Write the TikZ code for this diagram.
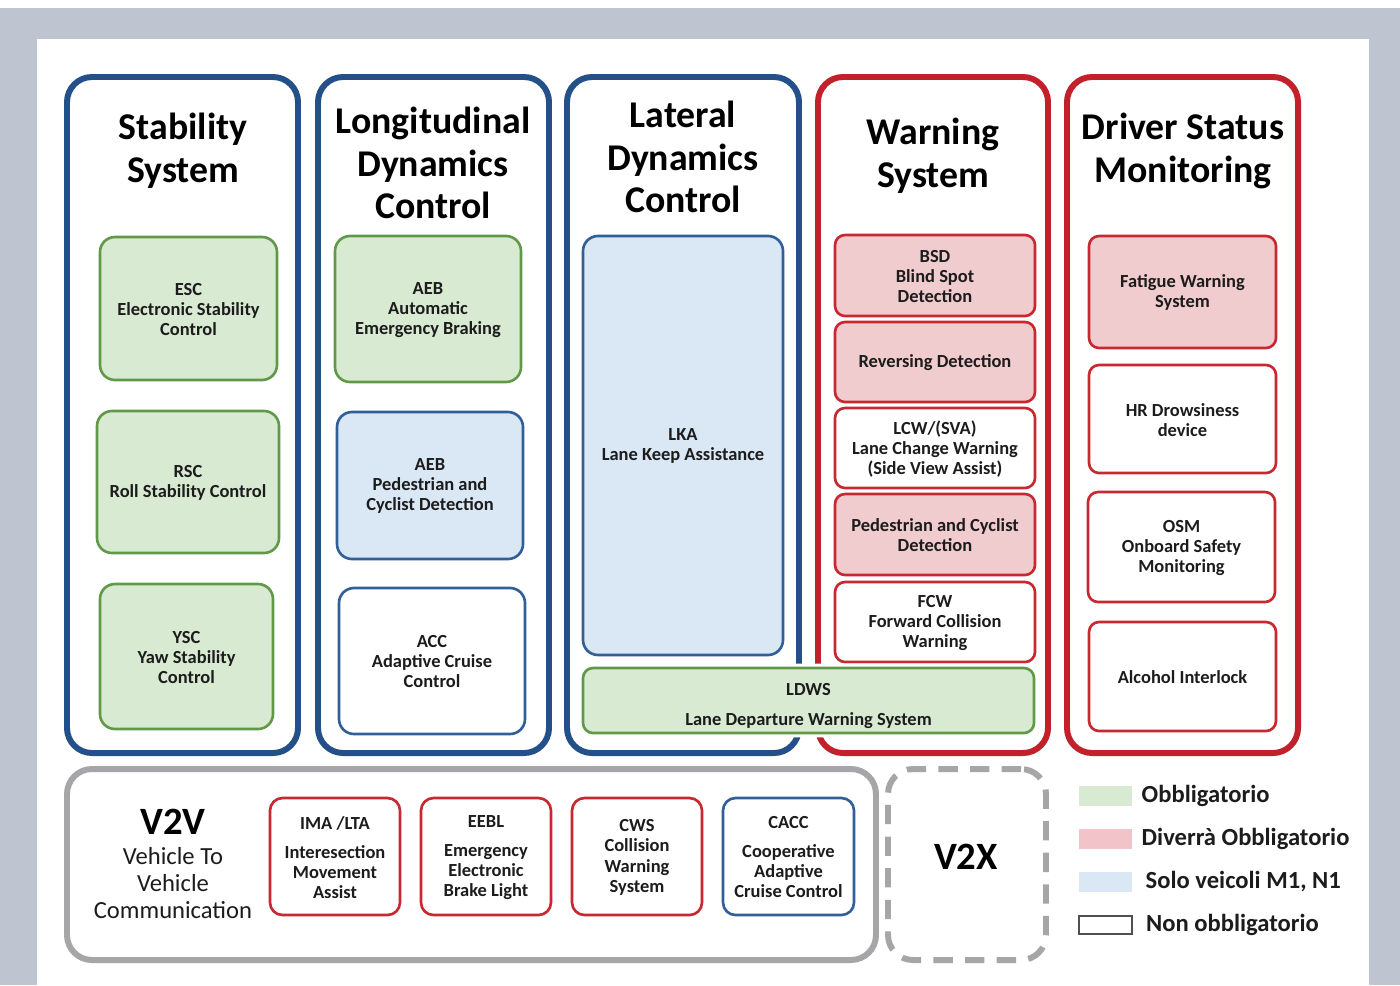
\documentclass[tikz,border=0pt]{standalone}
\usepackage{fontspec}
\setmainfont{Carlito}
\usetikzlibrary{positioning, fit, backgrounds}

\definecolor{bgblue}{RGB}{190,197,209}
\definecolor{colblue}{RGB}{36,80,137}
\definecolor{colred}{RGB}{194,32,42}
\definecolor{grnfill}{RGB}{217,234,211}
\definecolor{grnline}{RGB}{98,153,72}
\definecolor{pnkfill}{RGB}{240,204,206}
\definecolor{redline}{RGB}{200,40,48}
\definecolor{bluefill}{RGB}{218,232,246}
\definecolor{blueline}{RGB}{49,95,152}
\definecolor{grayline}{RGB}{166,166,168}
\definecolor{txt}{RGB}{28,28,28}

\begin{document}
\begin{tikzpicture}[
    x=0.02cm, y=-0.02cm,
    col/.style={draw, line width=3.4pt, rounded corners=0.5cm, inner sep=0pt},
    title/.style={font=\fontsize{21.5}{24.4}\selectfont\bfseries, align=center, text=black},
    box/.style={draw, line width=1.5pt, rounded corners=0.3cm, inner sep=0pt},
    gbox/.style={box, draw=grnline, fill=grnfill},
    pbox/.style={box, draw=redline, fill=pnkfill, rounded corners=0.2cm},
    rbox/.style={box, draw=redline, fill=white, rounded corners=0.2cm},
    bbox/.style={box, draw=blueline, fill=bluefill},
    wbox/.style={box, draw=blueline, fill=white},
    boxtxt/.style={align=center, text=txt, inner sep=0pt, yshift=-0.5pt, font=\fontsize{10.5}{11.4}\selectfont\bfseries},
    swatch/.style={minimum width=1.06cm, minimum height=0.4cm, inner sep=0pt},
    legtxt/.style={font=\fontsize{14}{16}\selectfont\bfseries, text=txt, anchor=west, inner sep=0pt}
  ]
  \useasboundingbox (0,0) rectangle (1400,985);

  % page background
  \fill[bgblue] (0,8) rectangle (1400,985);
  \fill[white] (37,39) rectangle (1369,985);

  % Columns
  \node[col, draw=colblue, fit={(67,77) (298,753)}] (stab) {};
  \node[col, draw=colblue, fit={(318,77) (549,753)}] (longi) {};
  \node[col, draw=colblue, fit={(567,77) (799,753)}] (lat) {};
  \node[col, draw=colred, fit={(818,77) (1048,753)}] (warn) {};
  \node[col, draw=colred, fit={(1067,77) (1298,753)}] (drv) {};

  \node[title] (stabT) at (183,151) {Stability\\System};
  \node[title] (longiT) at (433,163) {Longitudinal\\Dynamics\\Control};
  \node[title] (latT) at (683,157) {Lateral\\Dynamics\\Control};
  \node[title] (warnT) at (933,156) {Warning\\System};
  \node[title] (drvT) at (1183,151) {Driver Status\\Monitoring};

  % Stability system
  \node[gbox, fit={(100,237) (277,380)}] (esc) {};
  \node[gbox, fit={(97,411) (279,553)}] (rsc) {};
  \node[gbox, fit={(100,584) (273,729)}] (ysc) {};
  \node[boxtxt] (escT) at (esc) {ESC\\Electronic Stability\\Control};
  \node[boxtxt] (rscT) at (rsc) {RSC\\Roll Stability Control};
  \node[boxtxt] (yscT) at (ysc) {YSC\\Yaw Stability\\Control};

  % Longitudinal dynamics
  \node[gbox, fit={(335,236) (521,382)}] (aeb) {};
  \node[bbox, fit={(337,412) (523,559)}] (aebped) {};
  \node[wbox, fit={(339,588) (525,734)}] (acc) {};
  \node[boxtxt] (aebT) at (aeb) {AEB\\Automatic\\Emergency Braking};
  \node[boxtxt] (aebpedT) at (aebped) {AEB\\Pedestrian and\\Cyclist Detection};
  \node[boxtxt] (accT) at (acc) {ACC\\Adaptive Cruise\\Control};

  % Lateral dynamics
  \node[bbox, fit={(583,236) (783,655)}] (lka) {};
  \node[boxtxt] (lkaT) at (lka) {LKA\\Lane Keep Assistance};

  % Warning system
  \node[pbox, fit={(835,235) (1035,316)}] (bsd) {};
  \node[pbox, fit={(835,322) (1035,402)}] (rev) {};
  \node[rbox, fit={(835,408) (1035,488)}] (lcw) {};
  \node[pbox, fit={(835,494) (1035,575)}] (ped) {};
  \node[rbox, fit={(835,582) (1035,662)}] (fcw) {};
  \node[boxtxt] (bsdT) at (bsd) {BSD\\Blind Spot\\Detection};
  \node[boxtxt] (revT) at (rev) {Reversing Detection};
  \node[boxtxt] (lcwT) at (lcw) {LCW/(SVA)\\Lane Change Warning\\(Side View Assist)};
  \node[boxtxt] (pedT) at (ped) {Pedestrian and Cyclist\\Detection};
  \node[boxtxt] (fcwT) at (fcw) {FCW\\Forward Collision\\Warning};

  % LDWS spans lateral and warning columns
  \node[gbox, rounded corners=0.2cm, preaction={draw=white, line width=5pt}, fit={(583,668) (1034,733)}] (ldws) {};
  \node[boxtxt, yshift=-2.7pt] (ldwsT) at (ldws) {LDWS\\[5.5pt]Lane Departure Warning System};

  % Driver status
  \node[pbox, fit={(1089,236) (1276,348)}] (fat) {};
  \node[rbox, fit={(1089,365) (1276,473)}] (hr) {};
  \node[rbox, fit={(1088,492) (1275,602)}] (osm) {};
  \node[rbox, fit={(1089,622) (1276,731)}] (alc) {};
  \node[boxtxt] (fatT) at (fat) {Fatigue Warning\\System};
  \node[boxtxt] (hrT) at (hr) {HR Drowsiness\\device};
  \node[boxtxt] (osmT) at (osm) {OSM\\Onboard Safety\\Monitoring};
  \node[boxtxt] (alcT) at (alc) {Alcohol Interlock};

  % V2V / V2X
  \node[col, draw=grayline, fit={(67,769) (876,960)}] (v2v) {};
  \node[col, draw=grayline, dash pattern=on 11pt off 7pt, fit={(888,769) (1046,960)}] (v2x) {};
  \node[font=\fontsize{22}{24}\selectfont\bfseries, text=black] (v2vT) at (173,822) {V2V};
  \node[font=\fontsize{14}{15.3}\selectfont, align=center, text=txt] (v2vS) at (173,883) {Vehicle To\\Vehicle\\Communication};
  \node[font=\fontsize{22}{24}\selectfont\bfseries, text=black] (v2xT) at (966,857) {V2X};

  \node[rbox, rounded corners=0.25cm, fit={(270,798) (400,915)}] (ima) {};
  \node[rbox, rounded corners=0.25cm, fit={(421,798) (551,915)}] (eebl) {};
  \node[rbox, rounded corners=0.25cm, fit={(572,798) (702,915)}] (cws) {};
  \node[wbox, rounded corners=0.25cm, fit={(723,798) (854,915)}] (cacc) {};
  \node[boxtxt] (imaT) at (ima) {IMA /LTA\\[5pt]Interesection\\Movement\\Assist};
  \node[boxtxt] (eeblT) at (eebl) {EEBL\\[5pt]Emergency\\Electronic\\Brake Light};
  \node[boxtxt] (cwsT) at (cws) {CWS\\Collision\\Warning\\System};
  \node[boxtxt] (caccT) at (cacc) {CACC\\[5pt]Cooperative\\Adaptive\\Cruise Control};

  % Legend
  \node[swatch, fill=grnfill] (lgG) at (1105.5,796) {};
  \node[swatch, fill={rgb,255:red,242;green,196;blue,201}] (lgR) at (1105.5,839) {};
  \node[swatch, fill=bluefill] (lgB) at (1105.5,882) {};
  \node[swatch, draw={rgb,255:red,80;green,80;blue,80}, line width=1pt, minimum height=0.36cm] (lgN) at (1105.5,925) {};
  \node[legtxt, right=0.18cm of lgG] (lgGT) {Obbligatorio};
  \node[legtxt, right=0.18cm of lgR] (lgRT) {Diverrà Obbligatorio};
  \node[legtxt, right=0.26cm of lgB] (lgBT) {Solo veicoli M1, N1};
  \node[legtxt, right=0.26cm of lgN] (lgNT) {Non obbligatorio};

\end{tikzpicture}
\end{document}
